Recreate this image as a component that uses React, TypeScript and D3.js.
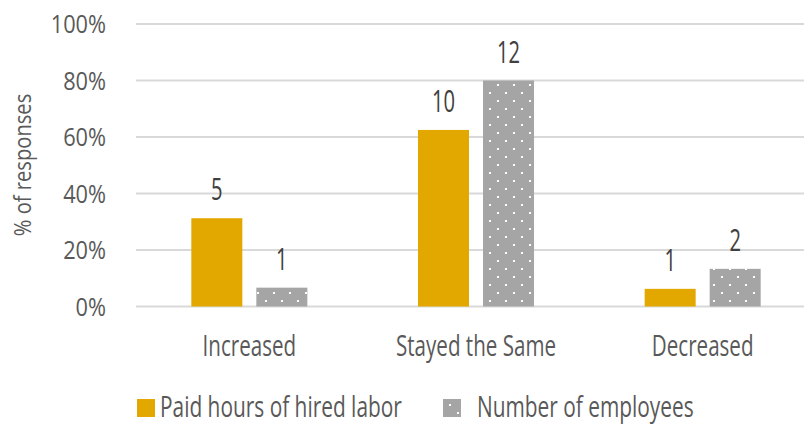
import React from "react";
import * as d3 from "d3";

const categories = ["Increased", "Stayed the Same", "Decreased"];
const seriesNames = ["Paid hours of hired labor", "Number of employees"];
const paidHoursPct = [0.3125, 0.625, 0.0625];
const paidHoursCount = [5, 10, 1];
const employeesPct = [0.0667, 0.8, 0.1333];
const employeesCount = [1, 12, 2];
const yTicks = [0, 0.2, 0.4, 0.6, 0.8, 1.0];

const W = 804;
const H = 424;
const FONT = "'Open Sans', 'Noto Sans', sans-serif";
const GOLD = "#e2a800";
const GRAY = "#a5a5a5";

function T({
  x,
  y,
  sx,
  size,
  anchor = "start",
  fill = "#595959",
  rotate = 0,
  children,
}: {
  x: number;
  y: number;
  sx: number;
  size: number;
  anchor?: string;
  fill?: string;
  rotate?: number;
  children: React.ReactNode;
}) {
  return (
    <text
      transform={`translate(${x},${y}) rotate(${rotate}) scale(${sx},1)`}
      textAnchor={anchor as any}
      fontSize={size}
      fill={fill}
    >
      {children}
    </text>
  );
}

export default function App() {
  const x = d3.scaleBand<string>().domain(categories).range([136, 816]).paddingInner(0).paddingOuter(0);
  const xs = d3
    .scaleBand<string>()
    .domain(seriesNames)
    .range([0, x.bandwidth()])
    .paddingInner(14 / 65)
    .paddingOuter(0.851);
  const y = d3.scaleLinear().domain([0, 1]).range([306.5, 24]);

  const series = [
    { name: seriesNames[0], pct: paidHoursPct, cnt: paidHoursCount, fill: GOLD },
    { name: seriesNames[1], pct: employeesPct, cnt: employeesCount, fill: "url(#dots)" },
  ];

  return (
    <svg width={W} height={H} style={{ position: "absolute", left: 0, top: 0, fontFamily: FONT }}>
      <defs>
        <pattern id="dots" patternUnits="userSpaceOnUse" width={16} height={16} x={1} y={0}>
          <rect width={16} height={16} fill={GRAY} />
          <rect x={0} y={4} width={2} height={2} fill="#ffffff" />
          <rect x={8} y={12} width={2} height={2} fill="#ffffff" />
        </pattern>
      </defs>
      <rect width={W} height={H} fill="#ffffff" />
      {yTicks.map((t) => (
        <g key={t}>
          <line x1={136} x2={W} y1={y(t)} y2={y(t)} stroke="#d9d9d9" strokeWidth={2} />
          <T x={106} y={y(t) + 9} sx={0.87} size={25} anchor="end">
            {d3.format(".0%")(t)}
          </T>
        </g>
      ))}
      <T x={31} y={165} sx={0.84} size={24} anchor="middle" rotate={-90}>
        % of responses
      </T>
      {series.map((s) =>
        categories.map((c, i) => {
          const bx = (x(c) as number) + (xs(s.name) as number);
          const top = y(s.pct[i]);
          return (
            <g key={s.name + c}>
              <rect x={bx} y={top} width={xs.bandwidth()} height={y(0) - top} fill={s.fill} />
              <T x={bx + xs.bandwidth() / 2} y={top - 18} sx={0.65} size={31} anchor="middle" fill="#404040">
                {s.cnt[i]}
              </T>
            </g>
          );
        })
      )}
      {categories.map((c) => (
        <T key={c} x={(x(c) as number) + x.bandwidth() / 2} y={356} sx={0.71} size={29} anchor="middle">
          {c}
        </T>
      ))}
      <g>
        <rect x={137} y={399} width={18} height={18} fill={GOLD} />
        <T x={160} y={417} sx={0.72} size={29}>
          {seriesNames[0]}
        </T>
        <rect x={443} y={399} width={18} height={18} fill="url(#dots)" />
        <T x={477} y={417} sx={0.72} size={29}>
          {seriesNames[1]}
        </T>
      </g>
    </svg>
  );
}
